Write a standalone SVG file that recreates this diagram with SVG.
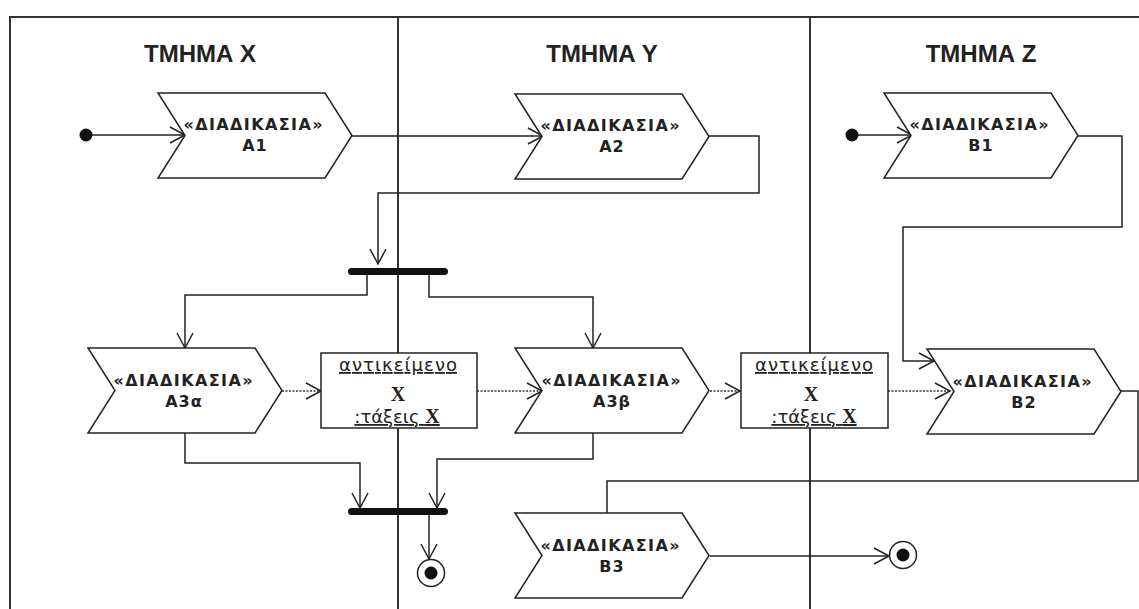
<svg xmlns="http://www.w3.org/2000/svg" xmlns:xlink="http://www.w3.org/1999/xlink" width="1139" height="609" viewBox="0 0 1139 609">
  <style>
    .frame { fill: none; stroke: #333; stroke-width: 2; }
    .title { font-family: "Liberation Sans", Arial, sans-serif; font-weight: bold; font-size: 24px; fill: #222; text-anchor: middle; }
    .act { fill: #fff; stroke: #222; stroke-width: 1.5; stroke-linejoin: miter; }
    .st { font-family: "DejaVu Sans", Verdana, sans-serif; font-weight: bold; font-size: 16px; fill: #222; text-anchor: middle; }
    .nm { font-family: "DejaVu Sans", Verdana, sans-serif; font-weight: bold; font-size: 16px; fill: #222; text-anchor: middle; letter-spacing: 1px; }
    .obj { fill: #fff; stroke: #222; stroke-width: 1.5; }
    .ot { font-family: "DejaVu Sans", Verdana, sans-serif; font-size: 18px; fill: #222; text-anchor: middle; text-decoration: underline; }
    .ox { font-family: "Liberation Serif", "Times New Roman", serif; font-weight: bold; font-size: 20px; fill: #222; text-anchor: middle; }
    .flow { fill: none; stroke: #222; stroke-width: 1.5; }
    .dep { fill: none; stroke: #666; stroke-width: 2; stroke-dasharray: 2 1.5; }
    .bar { fill: #111; }
    .dot { fill: #111; }
    .ring { fill: #fff; stroke: #222; stroke-width: 1.5; }
  </style>
  <defs>
    <!-- activity chevron: flat top/bottom, notched left, pointed right -->
    <path id="chev" d="M0,0 H167 L194,42.5 L167,85 H0 L27,42.5 Z"/>
    <marker id="open" markerUnits="userSpaceOnUse" viewBox="-17 -10 19 20" refX="0" refY="0" markerWidth="19" markerHeight="20" orient="auto">
      <path d="M-15,-8 L0,0 L-15,8" fill="none" stroke="#222" stroke-width="1.5"/>
    </marker>
  </defs>

  <rect width="1139" height="609" fill="#fff"/>

  <!-- swimlanes -->
  <g id="lanes">
    <path class="frame" d="M10,609 V17 H1139 M398,17 V609 M810,17 V609"/>
    <text class="title" x="200" y="62">ΤΜΗΜΑ Χ</text>
    <text class="title" x="602" y="62">ΤΜΗΜΑ Υ</text>
    <text class="title" x="981" y="62">ΤΜΗΜΑ Ζ</text>
  </g>

  <!-- control and object flows -->
  <g id="connectors">
    <path class="flow" d="M86,135 H185" marker-end="url(#open)"/>
    <path class="flow" d="M352,136 H543" marker-end="url(#open)"/>
    <path class="flow" d="M708,136 H759 V193 H378 V264" marker-end="url(#open)"/>
    <path class="flow" d="M367,275 V295 H185 V348" marker-end="url(#open)"/>
    <path class="flow" d="M429,275 V297 H593 V348" marker-end="url(#open)"/>
    <path class="dep" d="M282,391 H320"/>
    <path class="flow" d="M320,391 H321" marker-end="url(#open)"/>
    <path class="dep" d="M477,391 H541"/>
    <path class="flow" d="M541,391 H542" marker-end="url(#open)"/>
    <path class="dep" d="M710,391 H739"/>
    <path class="flow" d="M739,391 H740" marker-end="url(#open)"/>
    <path class="dep" d="M888,391 H949"/>
    <path class="flow" d="M949,391 H950" marker-end="url(#open)"/>
    <path class="flow" d="M852,135 H912" marker-end="url(#open)"/>
    <path class="flow" d="M1078,136 H1122 V227 H903 V361 H934" marker-end="url(#open)"/>
    <path class="flow" d="M185,433 V463 H360 V508" marker-end="url(#open)"/>
    <path class="flow" d="M593,433 V459 H437 V508" marker-end="url(#open)"/>
    <path class="flow" d="M429,515 V559" marker-end="url(#open)"/>
    <path class="flow" d="M1120,391 H1138 V481 H607 V513"/>
    <path class="flow" d="M710,556 H889" marker-end="url(#open)"/>
  </g>

  <g id="start1"><circle class="dot" cx="86" cy="135" r="6.5"/></g>
  <g id="start2"><circle class="dot" cx="852" cy="135" r="6.5"/></g>

  <g id="A1">
    <use xlink:href="#chev" class="act" x="158" y="93"/>
    <text class="st" x="253" y="130" textLength="139" lengthAdjust="spacing">«ΔΙΑΔΙΚΑΣΙΑ»</text>
    <text class="nm" x="255" y="151">Α1</text>
  </g>
  <g id="A2">
    <use xlink:href="#chev" class="act" x="515" y="94"/>
    <text class="st" x="610" y="131" textLength="139" lengthAdjust="spacing">«ΔΙΑΔΙΚΑΣΙΑ»</text>
    <text class="nm" x="612" y="152">Α2</text>
  </g>
  <g id="B1">
    <use xlink:href="#chev" class="act" x="884" y="93"/>
    <text class="st" x="979" y="130" textLength="139" lengthAdjust="spacing">«ΔΙΑΔΙΚΑΣΙΑ»</text>
    <text class="nm" x="981" y="151">Β1</text>
  </g>

  <g id="fork">
    <rect class="bar" x="348" y="268" width="100" height="7" rx="3.5"/>
  </g>

  <g id="A3a">
    <use xlink:href="#chev" class="act" x="88" y="348"/>
    <text class="st" x="183" y="386" textLength="139" lengthAdjust="spacing">«ΔΙΑΔΙΚΑΣΙΑ»</text>
    <text class="nm" x="184" y="407">Α3α</text>
  </g>
  <g id="object1">
    <rect class="obj" x="321" y="353" width="156" height="75"/>
    <text class="ot" x="398" y="371" textLength="118" lengthAdjust="spacing">αντικείμενο</text>
    <text class="ox" x="398" y="401">X</text>
    <text class="ot" x="397" y="423">:τάξεις <tspan font-family="Liberation Serif, serif" font-weight="bold" font-size="20">Χ</tspan></text>
  </g>
  <g id="A3b">
    <use xlink:href="#chev" class="act" x="515" y="348"/>
    <text class="st" x="611" y="386" textLength="139" lengthAdjust="spacing">«ΔΙΑΔΙΚΑΣΙΑ»</text>
    <text class="nm" x="612" y="407">Α3β</text>
  </g>
  <g id="object2">
    <rect class="obj" x="741" y="353" width="147" height="75"/>
    <text class="ot" x="814" y="371" textLength="118" lengthAdjust="spacing">αντικείμενο</text>
    <text class="ox" x="811" y="401">X</text>
    <text class="ot" x="814" y="423">:τάξεις <tspan font-family="Liberation Serif, serif" font-weight="bold" font-size="20">Χ</tspan></text>
  </g>
  <g id="B2">
    <use xlink:href="#chev" class="act" x="927" y="349"/>
    <text class="st" x="1022" y="387" textLength="139" lengthAdjust="spacing">«ΔΙΑΔΙΚΑΣΙΑ»</text>
    <text class="nm" x="1024" y="408">Β2</text>
  </g>

  <g id="join">
    <rect class="bar" x="348" y="508" width="100" height="7" rx="3.5"/>
  </g>

  <g id="B3">
    <use xlink:href="#chev" class="act" x="515" y="513"/>
    <text class="st" x="610" y="551" textLength="139" lengthAdjust="spacing">«ΔΙΑΔΙΚΑΣΙΑ»</text>
    <text class="nm" x="612" y="572">Β3</text>
  </g>

  <g id="end1">
    <circle class="ring" cx="431" cy="573" r="13.5"/>
    <circle class="dot" cx="431" cy="573" r="6.5"/>
  </g>
  <g id="end2">
    <circle class="ring" cx="903" cy="555" r="13.5"/>
    <circle class="dot" cx="903" cy="555" r="6.5"/>
  </g>
</svg>
